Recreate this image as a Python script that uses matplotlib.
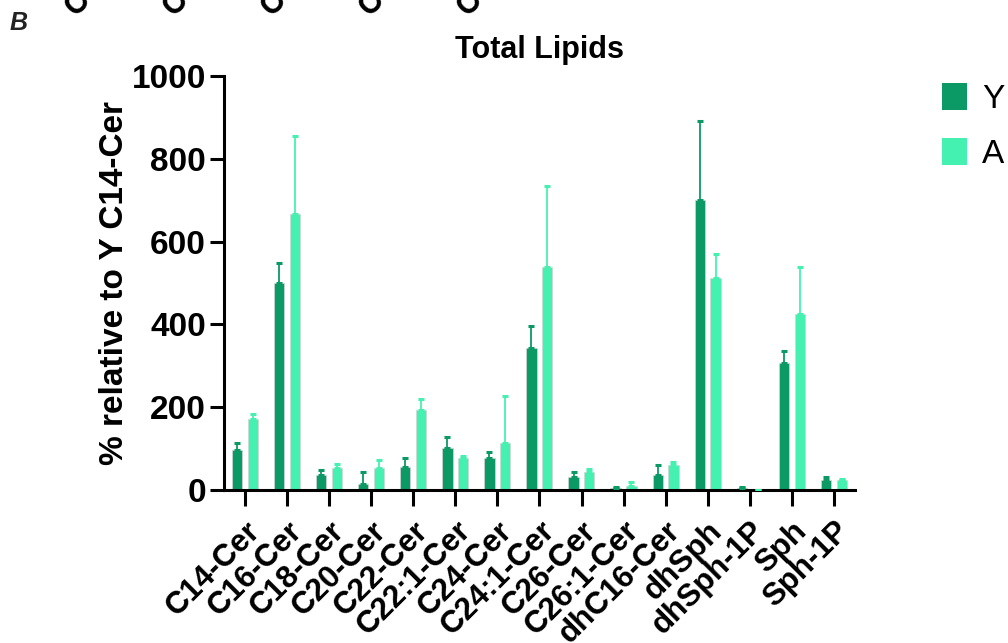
import matplotlib
matplotlib.use('Agg')
import matplotlib.pyplot as plt
from matplotlib.patches import Patch
import numpy as np

plt.rcParams['font.family'] = ['Liberation Sans', 'DejaVu Sans']

lipids = ['C14-Cer', 'C16-Cer', 'C18-Cer', 'C20-Cer', 'C22-Cer', 'C22:1-Cer',
          'C24-Cer', 'C24:1-Cer', 'C26-Cer', 'C26:1-Cer', 'dhC16-Cer', 'dhSph',
          'dhSph-1P', 'Sph', 'Sph-1P']
y_mean = [97, 501, 36, 14, 56, 102, 78, 343, 31, 4, 37, 700, 4, 306, 24]
y_err = [17, 46, 13, 30, 21, 27, 14, 53, 12, 3, 23, 190, 2, 29, 8]
a_mean = [171, 666, 52, 53, 193, 77, 114, 538, 44, 9, 61, 511, 0, 426, 24]
a_err = [12, 190, 10, 19, 27, 4, 112, 197, 6, 10, 7, 59, 0, 112, 2]
groups = ['Y', 'A']
colors = ['#0b9a65', '#44f1b0']
top_labels = ['C', 'C', 'C', 'C', 'C']

fig = plt.figure(figsize=(10.08, 6.43), dpi=100)
ax = fig.add_axes([0.2222, 0.238, 0.626, 0.644])

x = np.arange(len(lipids))
w = 0.245
for off, vals, errs, col in [(-0.19, y_mean, y_err, colors[0]), (0.185, a_mean, a_err, colors[1])]:
    ax.bar(x + off, vals, width=w, color=col, edgecolor='#d4d4d4', linewidth=0.5, zorder=2)
    ax.errorbar(x + off, vals, yerr=[np.zeros(len(vals)), errs], fmt='none',
                ecolor=col, elinewidth=1.3, capsize=2.3, capthick=2.2, zorder=3)

ax.set_xlim(-0.5, 14.5)
ax.set_ylim(0, 1000)
ax.set_yticks([0, 200, 400, 600, 800, 1000])
ax.set_xticks(x)
ax.set_xticklabels(lipids, rotation=45, ha='right', va='top', rotation_mode='anchor')
for s in ['top', 'right']:
    ax.spines[s].set_visible(False)
for s in ['left', 'bottom']:
    ax.spines[s].set_linewidth(2.2)
ax.tick_params(axis='y', width=2.2, length=10, labelsize=24, pad=3)
ax.tick_params(axis='x', width=2.2, length=11.5, labelsize=22.5, pad=7)
for lab in ax.get_xticklabels() + ax.get_yticklabels():
    lab.set_fontweight('bold')

ax.set_ylabel('% relative to Y C14-Cer', fontsize=24, fontweight='bold', labelpad=1)
ax.set_title('Total Lipids', fontsize=22, fontweight='bold', pad=13)

handles = [Patch(facecolor=c, edgecolor='none') for c in colors]
fig.legend(handles, groups, loc='upper left', bbox_to_anchor=(942 / 1008, 1 - 83 / 643),
           frameon=False, fontsize=24, handlelength=0.75, handleheight=0.87,
           handletextpad=0.45, labelspacing=0.7, borderpad=0, borderaxespad=0)

fig.text(10 / 1008, 1 - 30 / 643, 'B', fontsize=18, fontweight='bold', style='italic', color='#222222')

# bits of rotated labels from the panel above, cut off at the top edge
for i, t in enumerate(top_labels):
    fig.text((76 + 98 * i) / 1008, 1 - 17 / 643, t, fontsize=22, fontweight='bold',
             rotation=45, rotation_mode='anchor', ha='left', va='baseline')

fig.savefig('out.png', dpi=100)
